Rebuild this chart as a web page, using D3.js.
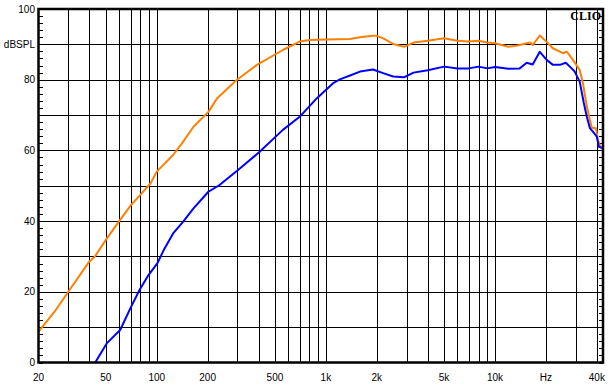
<html>
<head>
<script src="https://d3js.org/d3.v7.min.js"></script>
<style>
  body { margin: 0; background: #fff; }
  .grid line { stroke: #000; stroke-width: 1; shape-rendering: crispEdges; }
  .grid path { display: none; }
  .lbl { font-family: "Liberation Sans", Arial, sans-serif; font-size: 10px; fill: #000; }
</style>
</head>
<body>
<svg id="chart" width="612" height="387"></svg>
<script>

// orange curve (freq Hz, dBSPL)
var orangeFreq = [20, 25, 30, 40, 43, 50, 60, 70, 80, 92, 100, 125, 141, 165, 202, 221, 227, 297, 391, 557, 700, 806, 1000, 1390, 1590, 1900, 2000, 2200, 2500, 2900, 3300, 4000, 5000, 6000, 7000, 8000, 9000, 10000, 12000, 13000, 14000, 16100, 16700, 18400, 20200, 22000, 25200, 26600, 28900, 31700, 33100, 34900, 36400, 37400, 39500, 40600, 42200, 43400];
var orangeDb   = [8.7, 14.5, 20, 28.6, 29.9, 34.7, 40, 44.4, 47.4, 50.7, 54.0, 58.7, 62.0, 66.7, 70.9, 73.8, 74.7, 79.9, 84.2, 88.4, 90.8, 91.2, 91.4, 91.5, 92.0, 92.4, 92.4, 91.6, 90.1, 89.3, 90.5, 91.0, 91.7, 91.0, 90.8, 91.0, 90.5, 90.3, 89.3, 89.5, 89.8, 90.5, 89.8, 92.5, 90.7, 88.9, 87.5, 87.9, 85.6, 82.7, 79, 72.4, 68.6, 66.4, 66.3, 63, 60.8, 60.7];

// blue curve
var blueFreq = [43.3, 50.6, 60.8, 69.8, 79.1, 88.7, 101, 110, 125, 143, 165, 202, 235, 300, 406, 557, 700, 882, 1104, 1210, 1390, 1590, 1900, 2200, 2500, 2900, 3300, 4000, 5000, 6000, 7000, 8000, 9000, 10000, 12000, 14000, 15400, 16700, 18400, 20200, 22000, 24200, 26200, 27700, 29600, 31700, 33500, 34900, 36400, 37900, 40000, 41100, 43400];
var blueDb   = [0, 5.4, 9.2, 15.3, 20.5, 24.5, 28.1, 31.8, 36.5, 39.8, 43.6, 48.3, 50.2, 54.3, 59.6, 65.8, 69.5, 74.7, 79.0, 80.1, 81.2, 82.3, 82.9, 81.8, 80.9, 80.7, 82.0, 82.7, 83.7, 83.2, 83.2, 83.7, 83.2, 83.6, 83.1, 83.2, 84.8, 84.3, 87.9, 85.6, 84.2, 84.2, 84.8, 83.7, 82.3, 79.4, 73.4, 69.5, 66.3, 65.3, 63.9, 61, 60.7];

// axes
var xGridValues = [30, 40, 50, 60, 70, 80, 90, 100, 200, 300, 400, 500, 600, 700, 800, 900,
                   1000, 2000, 3000, 4000, 5000, 6000, 7000, 8000, 9000, 10000, 20000, 30000, 40000];
var xLabelValues = [20, 50, 100, 200, 500, 1000, 2000, 5000, 10000, 20000, 40000];
var xLabelText   = ["20", "50", "100", "200", "500", "1k", "2k", "5k", "10k", "Hz", "40k"];
var yGridValues  = [10, 20, 30, 40, 50, 60, 70, 80, 90];
var yLabelValues = [0, 20, 40, 60, 80, 90, 100];
var yLabelText   = ["0", "20", "40", "60", "80", "dBSPL", "100"];
var yMinorValues = d3.range(0, 101, 2);

var svg = d3.select('#chart');
svg.append("rect").attr("width", 612).attr("height", 387).attr("fill", "#fff");

var pLeft = 38.5, pRight = 603, pTop = 9, pBottom = 362.5;
var w = pRight - pLeft, h = pBottom - pTop;

var x = d3.scaleLog().domain([20, 43500]).range([pLeft, pRight]);
var y = d3.scaleLinear().domain([0, 100]).range([pBottom, pTop]);

// vertical gridlines
svg.append("g")
    .attr("class", "grid")
    .attr("transform", "translate(0," + pBottom + ")")
    .call(d3.axisBottom(x).tickValues(xGridValues).tickSize(-h).tickFormat(""));

// horizontal gridlines
svg.append("g")
    .attr("class", "grid")
    .attr("transform", "translate(" + pLeft + ",0)")
    .call(d3.axisLeft(y).tickValues(yGridValues).tickSize(-w).tickFormat(""));

// minor ticks inside left and right edges
svg.append("g")
    .attr("class", "grid")
    .attr("transform", "translate(" + pLeft + ",0)")
    .call(d3.axisLeft(y).tickValues(yMinorValues).tickSize(-4).tickFormat(""));
svg.append("g")
    .attr("class", "grid")
    .attr("transform", "translate(" + pRight + ",0)")
    .call(d3.axisRight(y).tickValues(yMinorValues).tickSize(-4).tickFormat(""));

// curves
svg.append("clipPath").attr("id", "clip")
  .append("rect").attr("x", pLeft).attr("y", pTop).attr("width", w).attr("height", h);

var line = d3.line()
    .x(function(d) { return x(d[0]); })
    .y(function(d) { return y(d[1]); });

var orange = d3.zip(orangeFreq, orangeDb);
var blue = d3.zip(blueFreq, blueDb);

svg.append("path")
    .datum(orange)
    .attr("clip-path", "url(#clip)")
    .attr("d", line)
    .attr("fill", "none")
    .attr("stroke", "#ff8000")
    .attr("stroke-width", 2)
    .attr("stroke-linejoin", "round");

svg.append("path")
    .datum(blue)
    .attr("clip-path", "url(#clip)")
    .attr("d", line)
    .attr("fill", "none")
    .attr("stroke", "#0000ff")
    .attr("stroke-width", 2)
    .attr("stroke-linejoin", "round");

// frame
svg.append("rect")
    .attr("x", pLeft)
    .attr("y", pTop)
    .attr("width", w)
    .attr("height", h)
    .attr("fill", "none")
    .attr("stroke", "#000")
    .attr("stroke-width", 2.5);

// labels
svg.selectAll("text.xl")
    .data(xLabelValues)
    .enter().append("text")
      .attr("class", "lbl xl")
      .attr("x", function(d) { return x(d); })
      .attr("y", 381)
      .attr("text-anchor", "middle")
      .text(function(d, i) { return xLabelText[i]; });

svg.selectAll("text.yl")
    .data(yLabelValues)
    .enter().append("text")
      .attr("class", "lbl yl")
      .attr("x", 35)
      .attr("y", function(d) { return y(d) + 3.5; })
      .attr("text-anchor", "end")
      .text(function(d, i) { return yLabelText[i]; });

svg.append("text")
    .attr("x", 601)
    .attr("y", 19.5)
    .attr("text-anchor", "end")
    .style("font-family", "'Liberation Serif', 'Times New Roman', serif")
    .style("font-weight", "bold")
    .style("font-size", "12px")
    .text("CLIO");

</script>
</body>
</html>
